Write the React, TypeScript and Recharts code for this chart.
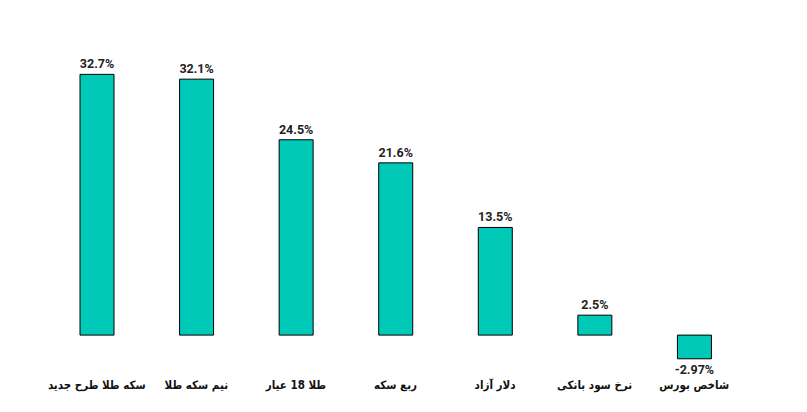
import {BarChart, Bar, XAxis, YAxis, LabelList} from 'recharts';

import type {ReactElement} from 'react';

const categories = ['سکه طلا طرح جدید', 'نیم سکه طلا', 'طلا 18 عیار', 'ربع سکه', 'دلار آزاد', 'نرخ سود بانکی', 'شاخص بورس'];
const returns = [32.7, 32.1, 24.5, 21.6, 13.5, 2.5, -2.97];
const valueLabels = ['32.7%', '32.1%', '24.5%', '21.6%', '13.5%', '2.5%', '-2.97%'];

const chartData = categories.map((name, i) => ({name, value: returns[i], label: valueLabels[i]}));

function CategoryTick({x, y, payload}: any): ReactElement {
	return (
		<text
			x={x}
			y={y}
			dy={20}
			textAnchor={'middle'}
			fill={'#111'}
			fontSize={11.5}
			fontWeight={'bold'}
			fontFamily={'"DejaVu Sans Condensed", "DejaVu Sans", sans-serif'}>
			{payload.value}
		</text>
	);
}

function ValueLabel({x, y, width, height, value}: any): ReactElement {
	const top = Math.min(y, y + height);
	const bottom = Math.max(y, y + height);
	const isNegative = String(value).startsWith('-');
	return (
		<text
			x={x + width / 2}
			y={isNegative ? bottom + 15 : top - 6}
			textAnchor={'middle'}
			fill={'#222'}
			fontSize={12.5}
			fontWeight={'bold'}
			fontFamily={'Roboto, sans-serif'}>
			{value}
		</text>
	);
}

function App(): ReactElement {
	return (
		<div style={{width: 807, height: 412, background: '#fff'}}>
			<style>{'body{margin:0}'}</style>
			<BarChart
				width={807}
				height={412}
				data={chartData}
				margin={{top: 64, right: 63, left: 47, bottom: 0}}>
				<XAxis
					dataKey={'name'}
					axisLine={false}
					tickLine={false}
					tickSize={0}
					height={45}
					interval={0}
					tick={<CategoryTick />}
				/>
				<YAxis hide domain={[-4, 34]} />
				<Bar dataKey={'value'} barSize={34} fill={'#00C9B7'} stroke={'#000'} strokeWidth={1} isAnimationActive={false}>
					<LabelList dataKey={'label'} content={<ValueLabel />} />
				</Bar>
			</BarChart>
		</div>
	);
}

export default App;
